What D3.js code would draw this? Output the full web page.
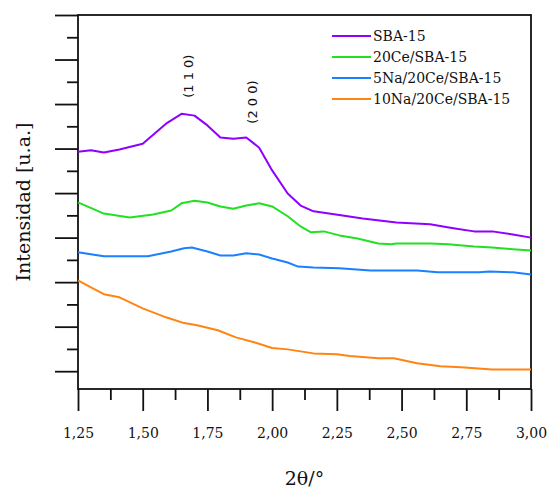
<!DOCTYPE html>
<html>
<head>
<meta charset="utf-8">
<script src="https://cdn.jsdelivr.net/npm/d3@7"></script>
<style>
  body { margin: 0; background: #fff; }
  text { font-family: "DejaVu Serif", serif; fill: #111; }
</style>
</head>
<body>
<div id="container"></div>
<script>
'use strict';

const w = 549;
const h = 488;
const margin = {top: 15, right: 18, bottom: 99, left: 78};

// Data: [2theta, intensity (a.u.)].
const seriesNames = ['SBA-15', '20Ce/SBA-15', '5Na/20Ce/SBA-15', '10Na/20Ce/SBA-15'];
const seriesColors = ['#8f00ff', '#22e022', '#1a80ff', '#ff8412'];

const sba15 = [
    [1.25, 4.93], [1.30, 4.96], [1.35, 4.91], [1.41, 4.98], [1.50, 5.11], [1.59, 5.56],
    [1.65, 5.78], [1.70, 5.74], [1.75, 5.52], [1.80, 5.25], [1.85, 5.22], [1.90, 5.25],
    [1.95, 5.02], [2.00, 4.51], [2.06, 3.99], [2.11, 3.72], [2.16, 3.59], [2.22, 3.54],
    [2.35, 3.43], [2.48, 3.34], [2.61, 3.30], [2.70, 3.21], [2.78, 3.14], [2.85, 3.14],
    [2.93, 3.07], [3.00, 3.00]
];
const ce20 = [
    [1.25, 3.79], [1.35, 3.54], [1.45, 3.45], [1.54, 3.52], [1.61, 3.61], [1.65, 3.77],
    [1.70, 3.83], [1.75, 3.79], [1.80, 3.70], [1.85, 3.65], [1.90, 3.72], [1.95, 3.77],
    [2.00, 3.70], [2.06, 3.48], [2.11, 3.25], [2.15, 3.12], [2.20, 3.14], [2.26, 3.05],
    [2.33, 2.98], [2.41, 2.87], [2.46, 2.85], [2.48, 2.87], [2.61, 2.87], [2.68, 2.85],
    [2.78, 2.80], [2.85, 2.78], [2.93, 2.74], [3.00, 2.71]
];
const na5ce20 = [
    [1.25, 2.67], [1.35, 2.58], [1.52, 2.58], [1.61, 2.69], [1.66, 2.76], [1.69, 2.78],
    [1.75, 2.69], [1.80, 2.60], [1.85, 2.60], [1.90, 2.65], [1.95, 2.62], [2.00, 2.53],
    [2.06, 2.44], [2.10, 2.35], [2.16, 2.33], [2.26, 2.31], [2.38, 2.26], [2.56, 2.26],
    [2.64, 2.22], [2.80, 2.22], [2.84, 2.24], [2.93, 2.22], [3.00, 2.17]
];
const na10ce20 = [
    [1.25, 2.04], [1.30, 1.88], [1.35, 1.73], [1.41, 1.66], [1.50, 1.41], [1.59, 1.21],
    [1.66, 1.08], [1.71, 1.03], [1.79, 0.92], [1.86, 0.76], [1.93, 0.65], [2.00, 0.52],
    [2.06, 0.49], [2.16, 0.40], [2.25, 0.38], [2.30, 0.34], [2.41, 0.29], [2.47, 0.29],
    [2.56, 0.18], [2.65, 0.11], [2.73, 0.09], [2.85, 0.04], [3.00, 0.04]
];
const allSeries = [sba15, ce20, na5ce20, na10ce20];

const xMajorTicks = [1.25, 1.50, 1.75, 2.00, 2.25, 2.50, 2.75, 3.00];
const xMinorTicks = [1.375, 1.625, 1.875, 2.125, 2.375, 2.625, 2.875];
const yMajorTicks = [0, 1, 2, 3, 4, 5, 6, 7, 8];
const yMinorTicks = [0.5, 1.5, 2.5, 3.5, 4.5, 5.5, 6.5, 7.5];

const peakLabels = ['(1 1 0)', '(2 0 0)'];
const peakPos = [[1.677, 6.14], [1.924, 5.56]];

const svg = d3.select('#container')
    .append('svg')
    .attr('width', w)
    .attr('height', h);

const xScale = d3.scaleLinear()
    .domain([1.25, 3.00])
    .range([margin.left, w - margin.right]);
const yScale = d3.scaleLinear()
    .domain([-0.4, 8])
    .range([h - margin.bottom, margin.top]);

// Axes: major and minor ticks drawn outward.
const fmt = d => d3.format('.2f')(d).replace('.', ',');

const xMinor = svg.append('g')
    .attr('transform', 'translate(0, ' + (h - margin.bottom) + ')')
    .call(d3.axisBottom(xScale).tickValues(xMinorTicks).tickSize(11).tickFormat(''));
const xMajor = svg.append('g')
    .attr('transform', 'translate(0, ' + (h - margin.bottom) + ')')
    .call(d3.axisBottom(xScale).tickValues(xMajorTicks).tickSize(22).tickFormat(fmt));
xMajor.selectAll('text')
    .attr('y', 39)
    .attr('dy', '0.71em')
    .style('font-size', '14px')
    .style('font-family', '"DejaVu Serif", serif');

const yMinor = svg.append('g')
    .attr('transform', 'translate(' + margin.left + ', 0)')
    .call(d3.axisLeft(yScale).tickValues(yMinorTicks).tickSize(11).tickFormat(''));
const yMajor = svg.append('g')
    .attr('transform', 'translate(' + margin.left + ', 0)')
    .call(d3.axisLeft(yScale).tickValues(yMajorTicks).tickSize(23).tickFormat(''));

[xMinor, xMajor, yMinor, yMajor].forEach(g => {
    g.select('.domain').remove();
    g.selectAll('line').attr('stroke', '#111').attr('stroke-width', 1.8);
});

// Frame.
svg.append('rect')
    .attr('x', margin.left)
    .attr('y', margin.top)
    .attr('width', w - margin.left - margin.right)
    .attr('height', h - margin.top - margin.bottom)
    .attr('fill', 'none')
    .attr('stroke', '#111')
    .attr('stroke-width', 1.8);

// Curves.
const line = d3.line()
    .x(d => xScale(d[0]))
    .y(d => yScale(d[1]));

svg.selectAll('path.curve')
    .data(allSeries)
    .enter()
    .append('path')
    .attr('class', 'curve')
    .attr('d', line)
    .attr('fill', 'none')
    .attr('stroke', (d, i) => seriesColors[i])
    .attr('stroke-width', 2)
    .attr('stroke-linejoin', 'round');

// Peak labels, rotated.
peakLabels.forEach((label, i) => {
    const px = xScale(peakPos[i][0]);
    const py = yScale(peakPos[i][1]);
    svg.append('text')
        .attr('transform', 'translate(' + px + ',' + py + ') rotate(-90)')
        .attr('text-anchor', 'start')
        .attr('dy', '0.35em')
        .style('font-family', '"DejaVu Sans", sans-serif')
        .style('font-size', '13px')
        .text(label);
});

// Legend.
const legend = svg.append('g').attr('transform', 'translate(332, 36)');
seriesNames.forEach((name, i) => {
    legend.append('line')
        .attr('x1', 0).attr('x2', 39)
        .attr('y1', i * 21).attr('y2', i * 21)
        .attr('stroke', seriesColors[i])
        .attr('stroke-width', 2);
    legend.append('text')
        .attr('x', 41)
        .attr('y', i * 21)
        .attr('dy', '0.35em')
        .style('font-size', '14px')
        .text(name);
});

// Axis titles.
svg.append('text')
    .attr('x', (margin.left + w - margin.right) / 2)
    .attr('y', 485)
    .attr('text-anchor', 'middle')
    .style('font-size', '19px')
    .text('2θ/°');

svg.append('text')
    .attr('transform', 'translate(30, ' + ((margin.top + h - margin.bottom) / 2) + ') rotate(-90)')
    .attr('text-anchor', 'middle')
    .style('font-size', '19px')
    .text('Intensidad [u.a.]');
</script>
</body>
</html>
